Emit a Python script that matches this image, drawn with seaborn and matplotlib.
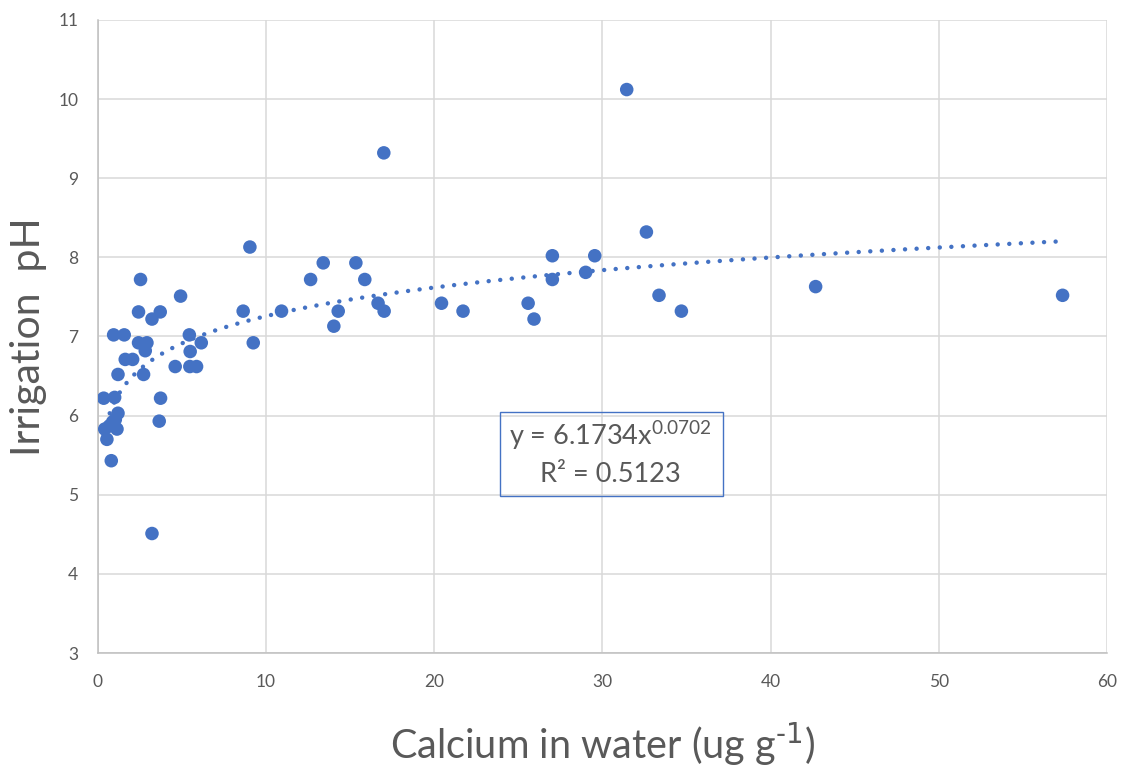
import matplotlib

matplotlib.use("Agg")
import matplotlib.pyplot as plt
from matplotlib.patches import Rectangle
import numpy as np
import pandas as pd
import seaborn as sns

# calcium in water (ug g-1) vs irrigation pH
CALCIUM = [
    0.36, 1.01, 1.21, 0.89, 0.42, 1.15, 0.55, 0.81, 0.70, 1.05,
    2.43, 3.72, 3.23, 0.95, 1.58, 2.43, 2.93, 2.83, 1.64, 2.08,
    1.21, 2.73, 5.45, 6.16, 5.50, 4.61, 5.48, 5.88, 2.55, 4.93,
    3.74, 3.66, 3.23, 8.65, 9.05, 9.25,
    10.93, 12.66, 13.41, 14.04, 14.30, 15.35, 15.88, 16.67, 17.03, 17.01,
    20.44, 21.72, 25.59, 25.94, 27.03, 27.03, 29.01, 29.55, 31.45,
    32.62, 33.37, 34.70, 42.68, 57.36,
]
PH = [
    6.22, 6.23, 6.03, 5.92, 5.83, 5.83, 5.70, 5.43, 5.87, 5.95,
    7.31, 7.31, 7.22, 7.02, 7.02, 6.92, 6.92, 6.82, 6.71, 6.71,
    6.52, 6.52, 7.02, 6.92, 6.81, 6.62, 6.62, 6.62, 7.72, 7.51,
    6.22, 5.93, 4.51, 7.32, 8.13, 6.92,
    7.32, 7.72, 7.93, 7.13, 7.32, 7.93, 7.72, 7.42, 7.32, 9.32,
    7.42, 7.32, 7.42, 7.22, 8.02, 7.72, 7.81, 8.02, 10.12,
    8.32, 7.52, 7.32, 7.63, 7.52,
]

# power trendline as printed on the chart
TREND_A = 6.1734
TREND_B = 0.0702
R_SQUARED = 0.5123

X_TICKS = [0, 10, 20, 30, 40, 50, 60]
Y_TICKS = [3, 4, 5, 6, 7, 8, 9, 10, 11]

BLUE = "#4472C4"
GRID = "#D9D9D9"
TEXT = "#595959"

sns.set_style("white")
plt.rcParams["font.family"] = ["Lato", "DejaVu Sans"]

df = pd.DataFrame({"calcium": CALCIUM, "ph": PH})
xs = np.linspace(min(CALCIUM), max(CALCIUM), 400)
trend = pd.DataFrame({"calcium": xs, "ph": TREND_A * xs ** TREND_B})

fig = plt.figure(figsize=(11.25, 7.66), dpi=100)
ax = fig.add_axes([0.0868, 0.1475, 0.8972, 0.8265])

sns.lineplot(data=trend, x="calcium", y="ph", ax=ax, color=BLUE, linewidth=3.2,
             linestyle=(0, (0.01, 2.6)), dash_capstyle="round", zorder=2)
sns.scatterplot(data=df, x="calcium", y="ph", ax=ax, color=BLUE, s=95,
                edgecolor="none", linewidth=0, zorder=3)

ax.set_xlim(X_TICKS[0], X_TICKS[-1])
ax.set_ylim(Y_TICKS[0], Y_TICKS[-1])
ax.set_xticks(X_TICKS)
ax.set_yticks(Y_TICKS)
ax.grid(True, color=GRID, linewidth=1.1, zorder=0)
ax.set_axisbelow(True)
for side in ("top", "right"):
    ax.spines[side].set_visible(False)
for side in ("left", "bottom"):
    ax.spines[side].set_color("#BFBFBF")
    ax.spines[side].set_linewidth(1.1)
ax.tick_params(length=0, labelsize=12.5, labelcolor=TEXT)
ax.tick_params(axis="x", pad=15)
ax.tick_params(axis="y", pad=14)

ax.set_xlabel("Calcium in water (ug g$^{\\text{-1}}$)", fontsize=28.5, color=TEXT, labelpad=22)
ax.set_ylabel("Irrigation  pH", fontsize=29.5, color=TEXT)
ax.yaxis.set_label_coords(-0.05, 0.5)

ax.add_patch(Rectangle((23.9, 4.98), 13.25, 1.07, fill=False, edgecolor=BLUE,
                       linewidth=1.0, zorder=4))
ax.text(30.5, 5.75, f"y = {TREND_A}x$^{{\\mathregular{{{TREND_B}}}}}$", ha="center", va="center",
        fontsize=19.5, color=TEXT, zorder=5)
ax.text(30.5, 5.25, f"R² = {R_SQUARED}", ha="center", va="center",
        fontsize=19.5, color=TEXT, zorder=5)

fig.savefig("out.png", dpi=100)
